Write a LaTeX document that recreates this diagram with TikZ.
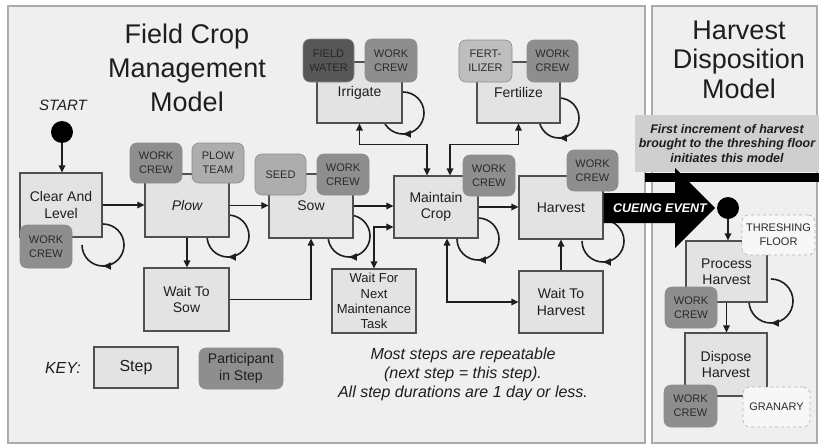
\documentclass[tikz,border=0pt]{standalone}
\usepackage{fontspec}
\setmainfont{Liberation Sans}
\usetikzlibrary{arrows.meta,decorations.markings}
\definecolor{panelbg}{HTML}{EFEFEF}
\definecolor{panelline}{HTML}{ABABAB}
\definecolor{stepfill}{HTML}{E3E3E3}
\definecolor{stepline}{HTML}{505050}
\definecolor{crewfill}{HTML}{8E8E8E}
\definecolor{lightfill}{HTML}{ADADAD}
\definecolor{fertfill}{HTML}{BEBEBE}
\definecolor{waterfill}{HTML}{575757}
\definecolor{placefill}{HTML}{F7F7F7}
\definecolor{parttext}{HTML}{2A2A2A}
\definecolor{notefill}{HTML}{CFCFCF}
\definecolor{ink}{HTML}{1E1E1E}
\newcommand\boxat[7]{\node[#1, minimum width={(#5)-(#3)}, minimum height={(#6)-(#4)}] (#2) at ({((#3)+(#5))/2},{-((#4)+(#6))/2}) {#7};}
\begin{document}
\begin{tikzpicture}[x=1pt,y=1pt,
  stepbox/.style={draw=stepline, line width=1.1pt, fill=stepfill, inner sep=0pt, align=center, font=\fontsize{14}{16.5}\selectfont, text=ink},
  partbox/.style={draw=black!45, line width=0.6pt, rounded corners=7pt, inner sep=0pt, align=center, font=\fontsize{11}{14}\selectfont, text=parttext},
  crewbox/.style={partbox, fill=crewfill},
  lightbox/.style={partbox, fill=lightfill},
  fertbox/.style={partbox, fill=fertfill},
  waterbox/.style={partbox, fill=waterfill, text=black!85},
  placebox/.style={partbox, fill=placefill, draw=black!30, dashed},
  conn/.style={line width=1.6pt, draw=ink, -{Triangle[length=7pt,width=6.5pt]}},
  bconn/.style={line width=1.6pt, draw=ink, {Triangle[length=7pt,width=6.5pt]}-{Triangle[length=7pt,width=6.5pt]}},
  loopline/.style={line width=1.6pt, draw=ink, postaction={decorate},
    decoration={markings, mark=at position 0.667 with {\arrow{Triangle[length=8pt,width=7pt]}}}},
  titlefont/.style={font=\fontsize{27}{34}\selectfont, text=ink, anchor=base}
]
\useasboundingbox (0,0) rectangle (819,-447);
\fill[white] (0,0) rectangle (819,-447);
% panels
\filldraw[fill=panelbg, draw=panelline, line width=2.5pt] (8,-6) rectangle (645,-443);
\filldraw[fill=panelbg, draw=panelline, line width=2.5pt] (652,-6) rectangle (817,-443);

% titles
\node[titlefont] (t1) at (187,-43) {Field Crop};
\node[titlefont] (t2) at (187,-77) {Management};
\node[titlefont] (t3) at (187,-111) {Model};
\node[titlefont] (h1) at (739,-39) {Harvest};
\node[titlefont] (h2) at (739,-68) {Disposition};
\node[titlefont] (h3) at (739,-98) {Model};

% note box in right panel
\node[fill=notefill, minimum width=184pt, minimum height=57pt, inner sep=0pt, align=center,
      font=\bfseries\itshape\fontsize{12.5}{14.5}\selectfont, text=ink] (note) at (727,-143.5)
      {First increment of harvest\\brought to the threshing floor\\initiates this model};
\fill[black] (645,-173) rectangle (819,-182);

% repeat loops (drawn first, boxes cover their inner parts)
\draw[loopline] (103,-224) arc[start angle=90, end angle=-180, radius=21];
\draw[loopline] (228,-215) arc[start angle=90, end angle=-180, radius=21];
\draw[loopline] (349,-215) arc[start angle=90, end angle=-180, radius=21];
\draw[loopline] (478,-218) arc[start angle=90, end angle=-180, radius=21];
\draw[loopline] (603,-220) arc[start angle=90, end angle=-180, radius=21];
\draw[loopline] (403,-92) arc[start angle=90, end angle=-180, radius=21];
\draw[loopline] (559,-98) arc[start angle=90, end angle=-180, radius=20];
\draw[loopline] (771,-279) arc[start angle=90, end angle=-180, radius=22];

\boxat{stepbox}{clear}{20}{173}{102}{237}{Clear And\\Level}
\boxat{stepbox}{plow}{145}{174}{229}{237}{\itshape Plow}
\boxat{stepbox}{sow}{269}{174}{353}{238}{Sow}
\boxat{stepbox}{maintain}{394}{176}{478}{238}{Maintain\\Crop}
\boxat{stepbox}{harvest}{519}{176}{603}{239}{Harvest}
\boxat{stepbox}{irrigate}{317}{62}{402}{123}{Irrigate}
\boxat{stepbox}{fertilize}{477}{62}{560}{123}{Fertilize}
\boxat{stepbox}{waitsow}{144}{268}{229}{331}{Wait To\\Sow}
\boxat{stepbox,font=\fontsize{13}{15.3}\selectfont}{waitnext}{332}{269}{416}{333}{Wait For\\Next\\Maintenance\\Task}
\boxat{stepbox}{waitharv}{519}{271}{603}{333}{Wait To\\Harvest}
\boxat{stepbox}{process}{686}{241}{767}{302}{Process\\Harvest}
\boxat{stepbox}{dispose}{685}{333}{767}{396}{Dispose\\Harvest}
\boxat{stepbox,font=\fontsize{16}{18}\selectfont}{keystep}{94}{347}{178}{388}{Step}

% participants
\boxat{crewbox}{cwclear}{20}{225}{72}{268}{WORK\\CREW}
\boxat{crewbox}{cwplow}{130}{143}{182}{183}{WORK\\CREW}
\boxat{lightbox}{plowteam}{192}{143}{244}{183}{PLOW\\TEAM}
\boxat{lightbox}{seed}{255}{154}{306}{195}{SEED}
\boxat{crewbox}{cwsow}{317}{154}{369}{195}{WORK\\CREW}
\boxat{waterbox}{fieldwater}{303}{39}{354}{82}{FIELD\\WATER}
\boxat{crewbox}{cwirr}{365}{39}{417}{82}{WORK\\CREW}
\boxat{fertbox}{fertilizer}{459}{40}{512}{82}{FERT-\\ILIZER}
\boxat{crewbox}{cwfert}{527}{40}{578}{82}{WORK\\CREW}
\boxat{crewbox}{cwmaint}{463}{155}{515}{196}{WORK\\CREW}
\boxat{crewbox}{cwharv}{567}{150}{618}{191}{WORK\\CREW}
\boxat{placebox}{threshing}{742}{215}{815}{255}{THRESHING\\FLOOR}
\boxat{crewbox}{cwproc}{665}{287}{717}{328}{WORK\\CREW}
\boxat{crewbox}{cwdisp}{664}{385}{717}{427}{WORK\\CREW}
\boxat{placebox}{granary}{743}{387}{810}{427}{GRANARY}
\boxat{crewbox,font=\fontsize{14}{17}\selectfont,text=ink}{keypart}{199}{348}{283}{389}{Participant\\in Step}

% start circles
\node[circle, fill=black, minimum size=22pt, inner sep=0pt] (start) at (62,-132) {};
\node[font=\itshape\fontsize{15}{18}\selectfont, text=ink] (starttxt) at (63,-105) {START};

% connectors
\draw[conn] (start) -- (start |- clear.north);
\draw[conn] (clear.east) -- (clear.east -| plow.west);
\draw[conn] (plow.east) -- (plow.east -| sow.west);
\draw[conn] (sow.east) -- (sow.east -| maintain.west);
\draw[conn] (maintain.east) -- (maintain.east -| harvest.west);
\draw[conn] (plow.south) -- (plow.south |- waitsow.north);
\draw[conn] (waitsow.east) -| (sow.south);
\draw[bconn] ([yshift=-20pt]maintain.west) -| (waitnext.north);
\draw[bconn] ([xshift=11pt]maintain.south) |- (waitharv.west);
\draw[conn] (waitharv.north) -- (waitharv.north |- harvest.south);
\draw[bconn] (irrigate.south) -- ++(0,-21) -| ([xshift=-9pt]maintain.north);
\draw[bconn] (fertilize.south) -- ++(0,-21) -| ([xshift=14pt]maintain.north);

% cueing event
\fill[black] (harvest.east |- 0,-193) -- (675,-193) -- (675,-168) -- (715,-208) -- (675,-248) -- (675,-223) -- (harvest.east |- 0,-223) -- cycle;
\node[font=\bfseries\itshape\fontsize{12.5}{14}\selectfont, text=white] (cue) at (660,-208) {CUEING EVENT};
\node[circle, fill=black, minimum size=22pt, inner sep=0pt] (hstart) at (728,-208) {};
\draw[conn] (hstart) -- (hstart |- process.north);
\draw[conn] (process.south) -- (process.south |- dispose.north);

% key and notes
\node[font=\itshape\fontsize{16}{18}\selectfont, text=ink] (key) at (63,-368) {KEY:};
\node[font=\itshape\fontsize{16}{19}\selectfont, align=center, text=ink] (notetext) at (463,-374)
  {Most steps are repeatable\\(next step = this step).\\All step durations are 1 day or less.};
\end{tikzpicture}
\end{document}
